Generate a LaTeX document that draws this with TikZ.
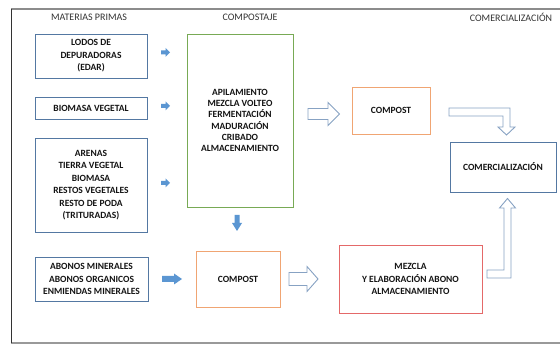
\documentclass[tikz,border=0pt]{standalone}
\usepackage{fontspec}
\setmainfont{Carlito}
\definecolor{boxblue}{RGB}{84,120,162}
\definecolor{boxgreen}{RGB}{120,170,85}
\definecolor{boxorange}{RGB}{240,165,115}
\definecolor{boxred}{RGB}{228,105,105}
\definecolor{arrowblue}{RGB}{91,150,210}
\definecolor{hollowblue}{RGB}{135,162,195}
\begin{document}
\begin{tikzpicture}[x=1pt,y=-1pt,
  box/.style={draw=#1, line width=0.9pt, fill=white, inner sep=0pt, align=center,
    text=black!92, font=\bfseries\fontsize{9.5}{12.5}\selectfont},
  heading/.style={font=\fontsize{10}{12}\selectfont, text=black!80, inner sep=0pt},
  solidarrow/.style={fill=arrowblue, draw=none},
  hollowarrow/.style={draw=hollowblue, line width=0.9pt, fill=white, line join=miter},
  frameline/.style={line width=1.2pt}]
\useasboundingbox (0,0) rectangle (560,344);
% frame
\draw[frameline, black!45] (11,9) -- (560,9);
\draw[frameline, black!40, line width=1.6pt] (11,343) -- (560,343);
\draw[black!80, line width=1pt] (11.5,9) -- (11.5,343);
% headings
\node[heading] (hmp) at (89,17) {MATERIAS PRIMAS};
\node[heading] (hcp) at (250,17) {COMPOSTAJE};
\node[heading] (hcm) at (511,17) {COMERCIALIZACIÓN};
% boxes
\node[box=boxblue, minimum width=112pt, minimum height=44pt] (lodos) at (91,56) {LODOS DE\\DEPURADORAS\\(EDAR)};
\node[box=boxblue, minimum width=112pt, minimum height=22pt] (biomasa) at (91,108) {BIOMASA VEGETAL};
\node[box=boxblue, minimum width=112pt, minimum height=94pt] (arenas) at (91,185) {ARENAS\\TIERRA VEGETAL\\BIOMASA\\RESTOS VEGETALES\\RESTO DE PODA\\(TRITURADAS)};
\node[box=boxblue, minimum width=113pt, minimum height=44pt] (abonos) at (91.5,279) {ABONOS MINERALES\\ABONOS ORGANICOS\\ENMIENDAS MINERALES};
\node[box=boxgreen, line width=0.7pt, minimum width=106pt, minimum height=173pt,
  font=\bfseries\fontsize{9.5}{11.2}\selectfont] (compostaje) at (240,120.5) {APILAMIENTO\\MEZCLA VOLTEO\\FERMENTACIÓN\\MADURACIÓN\\CRIBADO\\ALMACENAMIENTO};
\node[box=boxorange, minimum width=78pt, minimum height=47pt] (compost1) at (391,110.5) {COMPOST};
\node[box=boxblue, minimum width=106pt, minimum height=50pt] (comerc) at (503,167) {COMERCIALIZACIÓN};
\node[box=boxorange, minimum width=84pt, minimum height=56pt] (compost2) at (238,279) {COMPOST};
\node[box=boxred, minimum width=143pt, minimum height=68pt] (mezcla) at (410.5,279) {MEZCLA\\Y ELABORACIÓN ABONO\\ALMACENAMIENTO};
% solid arrows
\fill[solidarrow] (161,50.5) -- (165.5,50.5) -- (165.5,48) -- (170,52.5) -- (165.5,57) -- (165.5,54.5) -- (161,54.5) -- cycle;
\fill[solidarrow] (161,104) -- (165.5,104) -- (165.5,101.5) -- (170,106) -- (165.5,110.5) -- (165.5,108) -- (161,108) -- cycle;
\fill[solidarrow] (161,181) -- (165.5,181) -- (165.5,178.5) -- (170,183) -- (165.5,187.5) -- (165.5,185) -- (161,185) -- cycle;
\fill[solidarrow] (162,276) -- (174,276) -- (174,273.5) -- (182,279) -- (174,284.5) -- (174,282) -- (162,282) -- cycle;
\fill[solidarrow] (234.5,215) -- (239.5,215) -- (239.5,223) -- (242,223) -- (237,231) -- (232,223) -- (234.5,223) -- cycle;
% hollow arrows
\draw[hollowarrow] (308,108.5) -- (328,108.5) -- (328,102.5) -- (339.5,114) -- (328,125.5) -- (328,119.5) -- (308,119.5) -- cycle;
\draw[hollowarrow] (289,272.5) -- (307,272.5) -- (307,266.5) -- (318,279) -- (307,291.5) -- (307,285.5) -- (289,285.5) -- cycle;
\draw[hollowarrow] (449,108) -- (510,108) -- (510,127) -- (515,127) -- (506.5,135) -- (498,127) -- (503,127) -- (503,116) -- (449,116) -- cycle;
\draw[hollowarrow] (487,270) -- (504,270) -- (504,208) -- (499.5,208) -- (507.5,198.5) -- (515.5,208) -- (511,208) -- (511,278) -- (487,278) -- cycle;
\end{tikzpicture}
\end{document}
